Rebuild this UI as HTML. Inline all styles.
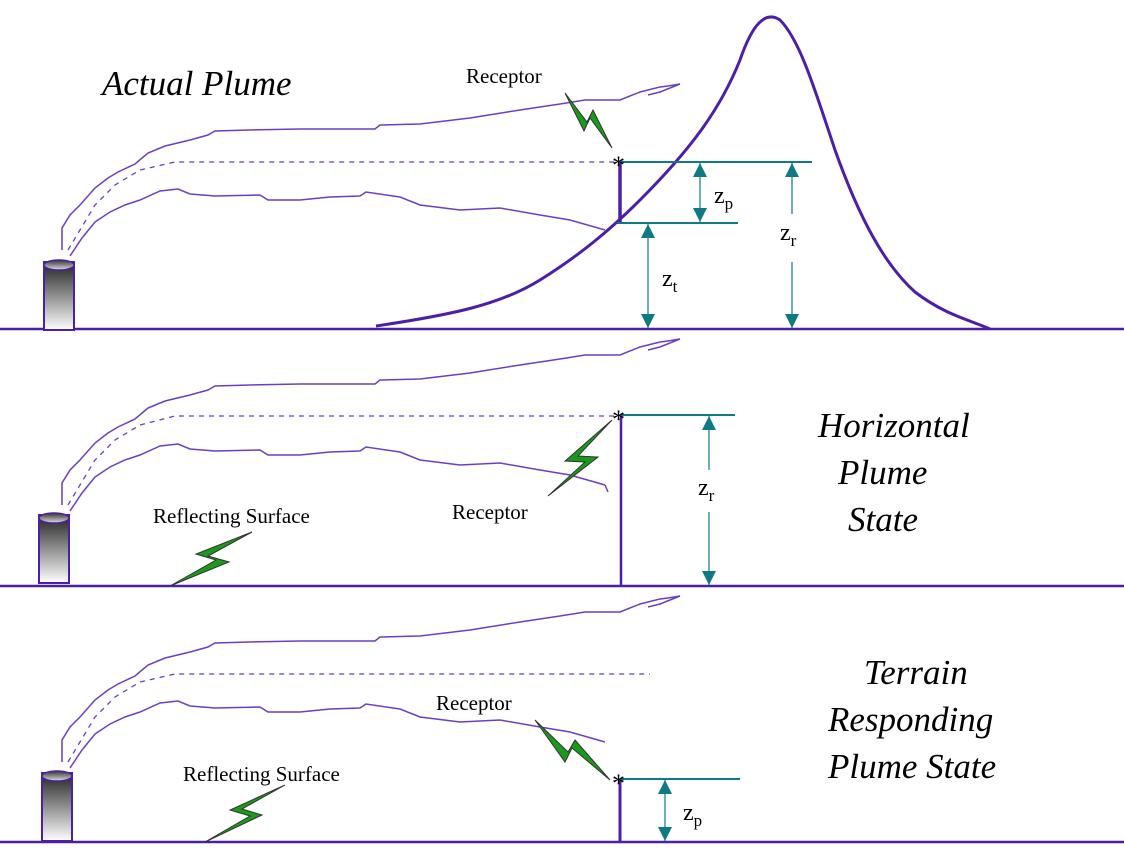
<!DOCTYPE html>
<html><head><meta charset="utf-8"><style>
html,body{margin:0;padding:0;background:#fff;}
svg{display:block;}
text{font-family:"Liberation Serif",serif;fill:#000;}
.it{font-style:italic;font-size:35px;}
.lbl{font-size:21px;}
.z{font-size:24px;}
.sub{font-size:17px;}
</style></head><body>
<svg width="1124" height="862" viewBox="0 0 1124 862" xmlns="http://www.w3.org/2000/svg">
<defs>
<linearGradient id="stk" x1="0" y1="0" x2="0" y2="1">
<stop offset="0" stop-color="#222"/><stop offset="1" stop-color="#fff"/></linearGradient>
<linearGradient id="cap" x1="0" y1="0" x2="0" y2="1">
<stop offset="0" stop-color="#333"/><stop offset="1" stop-color="#ddd"/></linearGradient>
<marker id="ah" viewBox="0 0 10 10" refX="10" refY="5" markerWidth="22" markerHeight="14" orient="auto-start-reverse" markerUnits="userSpaceOnUse">
<path d="M0,0 L10,5 L0,10 z" fill="#0f7a86"/></marker>
<g id="plume">
<polyline fill="none" stroke="#6a3fc4" stroke-width="1.5" points="62,250 62,228 70,215 80,205 95,188 108,178 118,172 135,164 148,153 165,146 190,140 208,135 215,131 250,130 300,129 375,129 380,125 420,124 470,118 520,110 560,104 585,100 620,100 640,92 660,87 668,86 680,84 660,92 648,95"/>
<polyline fill="none" stroke="#6a3fc4" stroke-width="1.5" points="70,256 82,238 95,222 110,212 125,205 140,200 160,191 178,189 190,194 215,196 260,195 268,200 300,200 330,197 360,196 366,192 400,197 420,205 460,210 500,208 540,215 570,220 605,230"/>
</g>
<g id="stack">
<rect x="0" y="0" width="30" height="68" fill="url(#stk)" stroke="#4b1fa6" stroke-width="2"/>
<ellipse cx="15" cy="3" rx="15" ry="5" fill="url(#cap)" stroke="#4b1fa6" stroke-width="1.5"/>
</g>
</defs>

<g>
<line x1="0" y1="329" x2="1124" y2="329" stroke="#4b1fa6" stroke-width="2.5"/>
<use href="#stack" x="44" y="262"/>
<use href="#plume"/>
<polyline fill="none" stroke="#6a3fc4" stroke-width="1.3" stroke-dasharray="5,5" points="68,250 80,230 95,205 115,185 140,170 175,162 615,162"/>
<path fill="none" stroke="#4b1fa6" stroke-width="3" d="M376,326 C450,315 500,305 540,280 C580,255 610,230 640,200 C690,150 720,110 740,60 C752,25 765,10 780,20 C800,40 815,90 835,150 C860,220 885,265 915,292 C945,315 970,320 990,329"/>
<line x1="620" y1="162" x2="620" y2="223" stroke="#4b1fa6" stroke-width="3.5"/>
<line x1="620" y1="162" x2="812" y2="162" stroke="#0f7a86" stroke-width="2"/>
<line x1="617" y1="223" x2="738" y2="223" stroke="#0f7a86" stroke-width="2"/>
<line x1="700" y1="163" x2="700" y2="222" stroke="#0f7a86" stroke-width="1.2" marker-start="url(#ah)" marker-end="url(#ah)"/>
<line x1="792" y1="163" x2="792" y2="328" stroke="#0f7a86" stroke-width="1.2" marker-start="url(#ah)" marker-end="url(#ah)"/>
<line x1="648" y1="224" x2="648" y2="328" stroke="#0f7a86" stroke-width="1.2" marker-start="url(#ah)" marker-end="url(#ah)"/>
<rect x="776" y="214" width="32" height="48" fill="#fff"/>
<rect x="660" y="262" width="30" height="40" fill="#fff"/>
<polygon points="565,93 584,131 590,118 612,148 593,110 587,122" fill="#1a9a1a" stroke="#333" stroke-width="1"/>
<text x="612" y="174" font-size="26">*</text>
<text class="it" x="102" y="95">Actual Plume</text>
<text class="lbl" x="466" y="83">Receptor</text>
<text class="z" x="714" y="203">z<tspan class="sub" dy="6">p</tspan></text>
<text class="z" x="780" y="240">z<tspan class="sub" dy="6">r</tspan></text>
<text class="z" x="662" y="286">z<tspan class="sub" dy="6">t</tspan></text>
</g>

<g>
<line x1="0" y1="586" x2="1124" y2="586" stroke="#4b1fa6" stroke-width="2.5"/>
<use href="#stack" x="39" y="515"/>
<g transform="translate(0,255)"><use href="#plume"/>
<polyline fill="none" stroke="#6a3fc4" stroke-width="1.5" points="605,230 608,237"/></g>
<polyline fill="none" stroke="#6a3fc4" stroke-width="1.3" stroke-dasharray="5,5" points="68,505 80,485 95,460 115,440 140,425 175,416 615,416"/>
<line x1="621" y1="415" x2="621" y2="586" stroke="#4b1fa6" stroke-width="2.5"/>
<line x1="620" y1="415" x2="735" y2="415" stroke="#0f7a86" stroke-width="2"/>
<line x1="709" y1="416" x2="709" y2="585" stroke="#0f7a86" stroke-width="1.2" marker-start="url(#ah)" marker-end="url(#ah)"/>
<rect x="694" y="470" width="30" height="42" fill="#fff"/>
<polygon points="612,420 565,461 585,462 548,496 598,457 578,456" fill="#1a9a1a" stroke="#333" stroke-width="1"/>
<polygon points="252,532 196,554 216,560 170,586 229,562 208,556" fill="#1a9a1a" stroke="#333" stroke-width="1"/>
<text x="612" y="428" font-size="26">*</text>
<text class="lbl" x="452" y="519">Receptor</text>
<text class="lbl" x="153" y="523">Reflecting Surface</text>
<text class="z" x="698" y="495">z<tspan class="sub" dy="6">r</tspan></text>
<text class="it" x="818" y="437">Horizontal</text>
<text class="it" x="838" y="484">Plume</text>
<text class="it" x="848" y="531">State</text>
</g>

<g>
<line x1="0" y1="842" x2="1124" y2="842" stroke="#4b1fa6" stroke-width="2.5"/>
<use href="#stack" x="42" y="773"/>
<g transform="translate(0,512)"><use href="#plume"/></g>
<polyline fill="none" stroke="#6a3fc4" stroke-width="1.3" stroke-dasharray="5,5" points="68,762 80,742 95,717 115,697 140,682 175,674 650,674"/>
<line x1="620" y1="779" x2="620" y2="842" stroke="#4b1fa6" stroke-width="3"/>
<line x1="620" y1="779" x2="740" y2="779" stroke="#0f7a86" stroke-width="2"/>
<line x1="665" y1="780" x2="665" y2="841" stroke="#0f7a86" stroke-width="1.2" marker-start="url(#ah)" marker-end="url(#ah)"/>
<polygon points="535,720 565,762 572,748 610,780 575,740 568,752" fill="#1a9a1a" stroke="#333" stroke-width="1"/>
<polygon points="285,785 230,810 250,816 205,842 262,815 242,809" fill="#1a9a1a" stroke="#333" stroke-width="1"/>
<text x="612" y="792" font-size="26">*</text>
<text class="lbl" x="436" y="710">Receptor</text>
<text class="lbl" x="183" y="781">Reflecting Surface</text>
<text class="z" x="683" y="820">z<tspan class="sub" dy="6">p</tspan></text>
<text class="it" x="864" y="684">Terrain</text>
<text class="it" x="828" y="731">Responding</text>
<text class="it" x="828" y="778">Plume State</text>
</g>
</svg>
</body></html>
